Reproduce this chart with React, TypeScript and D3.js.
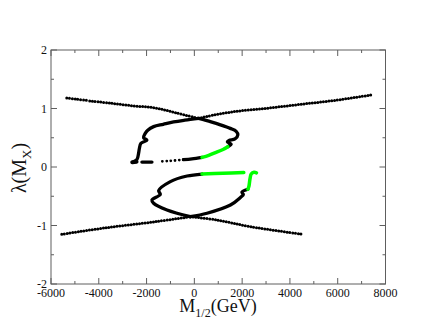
import * as d3 from "d3";

const width = 434;
const height = 335;
const MARGIN = { top: 50, right: 48.5, bottom: 51, left: 51 };
const boundsWidth = width - MARGIN.left - MARGIN.right;
const boundsHeight = height - MARGIN.top - MARGIN.bottom;

const xTicks = [-6000, -4000, -2000, 0, 2000, 4000, 6000, 8000];
const xMinor = [-5000, -3000, -1000, 1000, 3000, 5000, 7000];
const yTicks = [-2, -1, 0, 1, 2];
const yMinor = [-1.5, -0.5, 0.5, 1.5];

// outer arms (dotted)
const armUpperLeftA: [number, number][] = [[-5340, 1.18], [-4950, 1.16], [-4520, 1.14]];
const armUpperLeftB: [number, number][] = [[-4380, 1.13], [-3500, 1.09], [-2545, 1.045], [-1635, 1.01], [-800, 0.93], [180, 0.83]];
const armUpperRight: [number, number][] = [[180, 0.83], [530, 0.865], [1650, 0.946], [3050, 1.005], [4450, 1.072], [5900, 1.14], [7380, 1.23]];
const armLowerLeft: [number, number][] = [[-5550, -1.15], [-3730, -1.04], [-1635, -0.935], [-170, -0.85]];
const armLowerRight: [number, number][] = [[-170, -0.85], [950, -0.906], [2350, -1.02], [4520, -1.15]];

// inner loops (solid black)
const loopUpperRight: [number, number][] = [[180, 0.83], [700, 0.77], [1090, 0.72], [1500, 0.66], [1750, 0.61], [1820, 0.55], [1700, 0.48], [1450, 0.455], [1380, 0.43], [1540, 0.39], [1400, 0.347]];
const loopUpperLeft: [number, number][] = [[180, 0.83], [-400, 0.8], [-870, 0.77], [-1300, 0.73], [-1705, 0.69], [-1950, 0.63], [-2055, 0.575], [-2125, 0.5], [-1985, 0.46], [-2235, 0.405], [-2300, 0.32], [-2335, 0.234], [-2400, 0.13], [-2545, 0.09]];
const tailUpperSolid: [number, number][] = [[320, 0.165], [-100, 0.14], [-460, 0.125]];
const tailUpperDots: [number, number][] = [[-460, 0.125], [-1000, 0.105], [-1500, 0.095]];
const tailUpperDash: [number, number][] = [[-1775, 0.085], [-2195, 0.085]];
const tailUpperBlob: [number, number][] = [[-2420, 0.09], [-2600, 0.08]];
const loopLowerRight: [number, number][] = [[-170, -0.85], [530, -0.79], [1510, -0.65], [1930, -0.52], [2050, -0.47], [1990, -0.43], [2240, -0.38]];
const loopLowerLeft: [number, number][] = [[-170, -0.85], [-1145, -0.735], [-1705, -0.62], [-1775, -0.564], [-1425, -0.467], [-1495, -0.405], [-1005, -0.25], [-305, -0.154], [320, -0.12]];

// green segments
const greenUpper: [number, number][] = [[1400, 0.347], [1200, 0.3], [880, 0.245], [600, 0.2], [320, 0.165]];
const greenLowerTop: [number, number][] = [[320, -0.12], [1200, -0.105], [2070, -0.095]];
const greenLowerSide: [number, number][] = [[2240, -0.38], [2280, -0.336], [2330, -0.2], [2380, -0.12], [2500, -0.09], [2600, -0.1]];

const xScale = d3.scaleLinear().domain([-6000, 8000]).range([0, boundsWidth]);
const yScale = d3.scaleLinear().domain([-2, 2]).range([boundsHeight, 0]);

const series = [
  { d: armUpperLeftA, kind: "dots" },
  { d: armUpperLeftB, kind: "dots" },
  { d: armUpperRight, kind: "dots" },
  { d: armLowerLeft, kind: "dots" },
  { d: armLowerRight, kind: "dots" },
  { d: loopUpperRight, kind: "solid" },
  { d: loopUpperLeft, kind: "solid" },
  { d: tailUpperSolid, kind: "solid" },
  { d: tailUpperDots, kind: "sparse" },
  { d: tailUpperDash, kind: "solid" },
  { d: tailUpperBlob, kind: "blob" },
  { d: loopLowerRight, kind: "solid" },
  { d: loopLowerLeft, kind: "solid" },
  { d: greenUpper, kind: "green" },
  { d: greenLowerTop, kind: "green" },
  { d: greenLowerSide, kind: "green" },
];

const styles: Record<string, any> = {
  dots: { stroke: "#000", strokeWidth: 3, strokeDasharray: "0 2.8", strokeLinecap: "round" },
  sparse: { stroke: "#000", strokeWidth: 2.8, strokeDasharray: "0 4.2", strokeLinecap: "round" },
  solid: { stroke: "#000", strokeWidth: 3.3, strokeLinecap: "round", strokeLinejoin: "round" },
  blob: { stroke: "#000", strokeWidth: 4, strokeLinecap: "round" },
  green: { stroke: "#00ff00", strokeWidth: 3.5, strokeLinecap: "round", strokeLinejoin: "round" },
};

const lineGen = d3
  .line<[number, number]>()
  .x((p) => xScale(p[0]))
  .y((p) => yScale(p[1]))
  .curve(d3.curveCatmullRom.alpha(0.5));

export default function App() {
  const frame = "#5e5e5e";
  const font = "Liberation Serif, Times New Roman, serif";
  return (
    <svg width={width} height={height} style={{ position: "absolute", left: 0, top: 0, background: "#fff" }}>
      <rect width={width} height={height} fill="#fff" />
      <g transform={`translate(${MARGIN.left},${MARGIN.top})`}>
        {series.map((s, i) => (
          <path key={i} d={lineGen(s.d) || ""} fill="none" {...styles[s.kind]} />
        ))}
        <rect x={0} y={0} width={boundsWidth} height={boundsHeight} fill="none" stroke={frame} strokeWidth={1} />
        {xTicks.map((t) => (
          <g key={"x" + t}>
            <line x1={xScale(t)} x2={xScale(t)} y1={boundsHeight} y2={boundsHeight - 6} stroke={frame} />
            <line x1={xScale(t)} x2={xScale(t)} y1={0} y2={6} stroke={frame} />
            <text x={xScale(t)} y={boundsHeight + 12.5} textAnchor="middle" fontSize={12} fontFamily={font} fill="#111">
              {t}
            </text>
          </g>
        ))}
        {xMinor.map((t) => (
          <g key={"xm" + t}>
            <line x1={xScale(t)} x2={xScale(t)} y1={boundsHeight} y2={boundsHeight - 3} stroke={frame} />
            <line x1={xScale(t)} x2={xScale(t)} y1={0} y2={3} stroke={frame} />
          </g>
        ))}
        {yTicks.map((t) => (
          <g key={"y" + t}>
            <line x1={0} x2={6} y1={yScale(t)} y2={yScale(t)} stroke={frame} />
            <line x1={boundsWidth} x2={boundsWidth - 6} y1={yScale(t)} y2={yScale(t)} stroke={frame} />
            <text x={-4} y={yScale(t) + 4} textAnchor="end" fontSize={12} fontFamily={font} fill="#111">
              {t}
            </text>
          </g>
        ))}
        {yMinor.map((t) => (
          <g key={"ym" + t}>
            <line x1={0} x2={3} y1={yScale(t)} y2={yScale(t)} stroke={frame} />
            <line x1={boundsWidth} x2={boundsWidth - 3} y1={yScale(t)} y2={yScale(t)} stroke={frame} />
          </g>
        ))}
      </g>
      <text x={218} y={312} textAnchor="middle" fontSize={18} fontFamily={font} fill="#111">
        M<tspan fontSize={12} dy={5}>1/2</tspan>
        <tspan dy={-5}>(GeV)</tspan>
      </text>
      <text transform="translate(26,168) rotate(-90)" textAnchor="middle" fontSize={20} fontFamily={font} fill="#111">
        λ(M<tspan fontSize={13} dy={5}>X</tspan>
        <tspan dy={-5}>)</tspan>
      </text>
    </svg>
  );
}
